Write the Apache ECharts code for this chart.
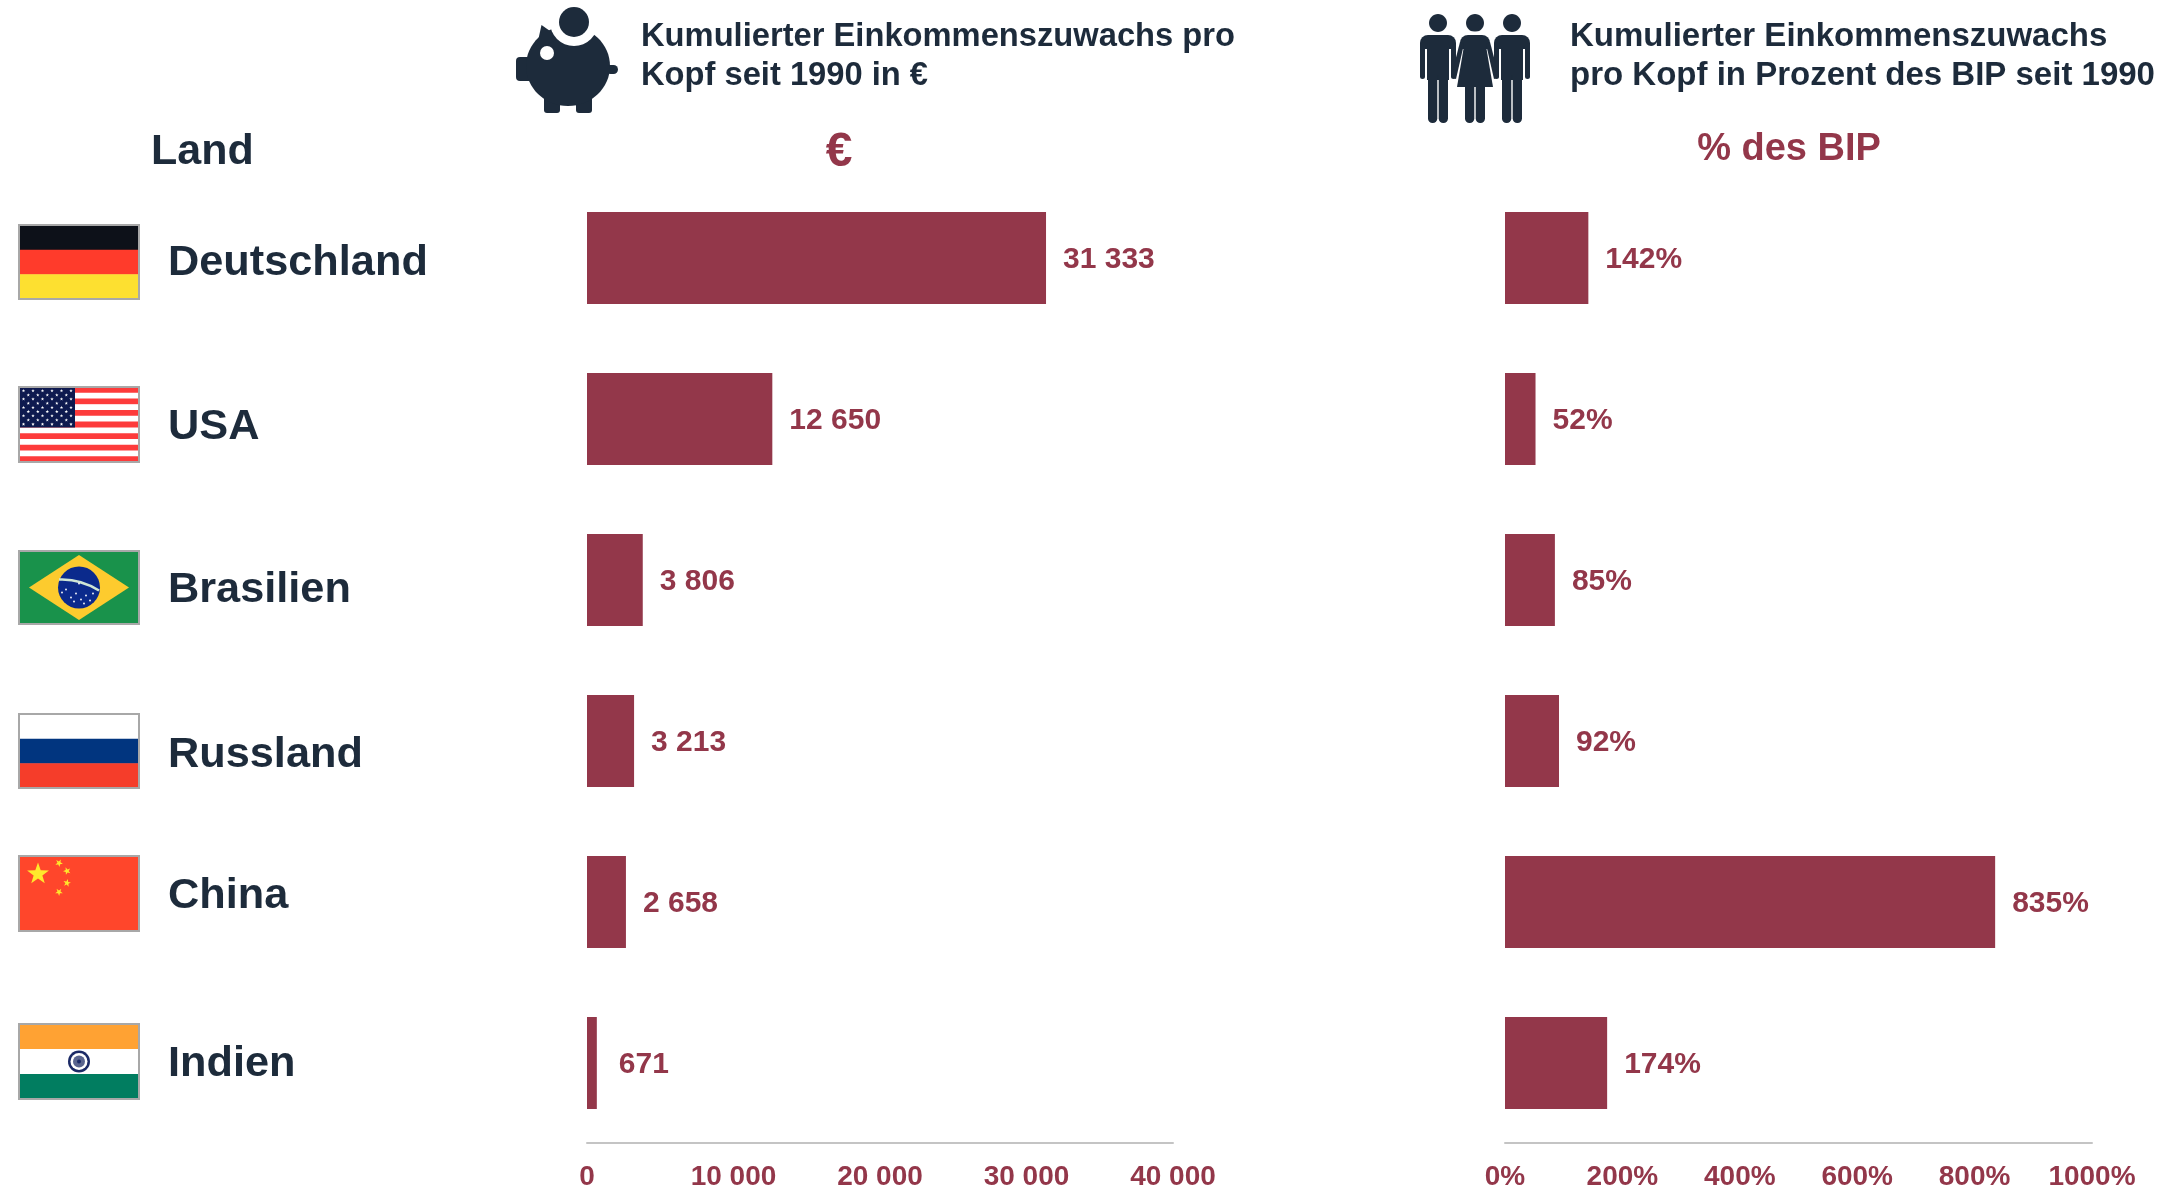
<!DOCTYPE html>
<html>
<head>
<meta charset="utf-8">
<title>Einkommenszuwachs</title>
<script src="https://cdn.jsdelivr.net/npm/echarts@6/dist/echarts.min.js"></script>
<style>
  html, body { margin: 0; padding: 0; background: #fff; }
  #chart { width: 2169px; height: 1191px; }
</style>
</head>
<body>
<div id="chart"></div>
<script>
const categories = ["Deutschland", "USA", "Brasilien", "Russland", "China", "Indien"]
const euroValues = [31333, 12650, 3806, 3213, 2658, 671]
const gdpValues = [142, 52, 85, 92, 835, 174]
const euroTicks = [0, 10000, 20000, 30000, 40000]
const gdpTicks = [0, 200, 400, 600, 800, 1000]

const DARK = "#1d2b3b"
const WINE = "#93374a"
const FONT = "'Liberation Sans', Arial, sans-serif"

// flags and names do not sit exactly on the bar rows in the original
const FLAG_W = 120
const flagTop = [225, 387, 551, 714, 856, 1024]
const flagHeight = [74, 75, 73, 74, 75, 75]
const nameShift = [5.5, 8, 10, 14, -5.5, 1.5]

function groupSpaces(n) {
  return String(n).replace(/\B(?=(\d{3})+$)/g, " ")
}

function rect(x, y, width, height, fill, r) {
  return { type: "rect", shape: { x, y, width, height, r: r || 0 }, style: { fill } }
}

function circle(cx, cy, r, fill) {
  return { type: "circle", shape: { cx, cy, r }, style: { fill } }
}

function poly(points, fill) {
  return { type: "polygon", shape: { points }, style: { fill } }
}

function star(cx, cy, r, fill, turn) {
  const pts = []
  for (let i = 0; i < 10; i++) {
    const a = -Math.PI / 2 + (turn || 0) + i * Math.PI / 5
    const d = i % 2 ? r * 0.4 : r
    pts.push([cx + d * Math.cos(a), cy + d * Math.sin(a)])
  }
  return poly(pts, fill)
}

function stripes(h, colors) {
  return colors.map((c, i) => rect(0, h * i / colors.length, FLAG_W, h / colors.length + 0.5, c))
}

const flagDrawers = {
  Deutschland: h => stripes(h, ["#0d1119", "#ff3b2b", "#fde030"]),
  USA: h => {
    const out = []
    const colors = []
    for (let i = 0; i < 13; i++) colors.push(i % 2 ? "#ffffff" : "#fd3b3b")
    out.push(...stripes(h, colors))
    const cw = 56
    const ch = h * 7 / 13
    out.push(rect(0, 0, cw, ch, "#0e1a4f"))
    for (let row = 0; row < 9; row++) {
      const count = row % 2 ? 5 : 6
      for (let k = 0; k < count; k++) {
        const x = (row % 2 ? 9.3 : 4.5) + k * 9.5
        out.push(star(x, 3.8 + row * (ch - 7) / 8, 1.8, "#ffffff"))
      }
    }
    return out
  },
  Brasilien: h => {
    const cy = h / 2
    const out = [
      rect(0, 0, FLAG_W, h, "#19924b"),
      poly([[10, cy], [60, 4], [110, cy], [60, h - 4]], "#fdcb2e"),
      circle(60, cy, 21, "#0b2a8c"),
      {
        type: "bezierCurve",
        shape: { x1: 40, y1: cy - 8, cpx1: 61, cpy1: cy - 9, x2: 80, y2: cy + 3 },
        style: { fill: "none", stroke: "#cfe6d5", lineWidth: 2.5 }
      }
    ]
    const dots = [[47, 2], [52, 10], [57, 6], [62, 12], [67, 8], [71, 13], [55, 14], [65, 16], [74, 6], [43, 5], [60, -4]]
    dots.forEach(d => out.push(circle(d[0], cy + d[1], 0.9, "#ffffff")))
    return out
  },
  Russland: h => stripes(h, ["#ffffff", "#01357f", "#f53d2a"]),
  China: h => [
    rect(0, 0, FLAG_W, h, "#ff462b"),
    star(19, 18, 11.5, "#ffe82c"),
    star(40, 7, 4, "#ffe82c", 0.5),
    star(48, 15, 4, "#ffe82c", 0.9),
    star(48, 27, 4, "#ffe82c", 0.2),
    star(40, 36, 4, "#ffe82c", 0.6)
  ],
  Indien: h => {
    const out = stripes(h, ["#ffa233", "#ffffff", "#017d60"])
    out.push(circle(60, h / 2, 11, "#1b2a66"), circle(60, h / 2, 8.5, "#ffffff"))
    out.push(circle(60, h / 2, 6, "#5a658f"), circle(60, h / 2, 2, "#1b2a66"))
    return out
  }
}

function flagGraphic(name, i) {
  const h = flagHeight[i]
  return {
    type: "group",
    x: 19,
    y: flagTop[i],
    children: [
      ...flagDrawers[name](h),
      { type: "rect", shape: { x: 0, y: 0, width: FLAG_W, height: h }, style: { fill: "none", stroke: "#a8a8a8", lineWidth: 2 } }
    ]
  }
}

function pigGraphic() {
  return {
    type: "group",
    x: 500,
    y: 0,
    children: [
      rect(16, 57, 20, 24, DARK, 4),
      rect(44, 92, 16, 21, DARK, 3),
      rect(76, 92, 16, 21, DARK, 3),
      rect(106, 65, 12, 9, DARK, 4.5),
      { type: "ellipse", shape: { cx: 68, cy: 66, rx: 42, ry: 40 }, style: { fill: DARK } },
      poly([[41.5, 25], [60, 38], [36, 50]], DARK),
      circle(74, 22, 24, "#ffffff"),
      circle(74, 22, 15, DARK),
      circle(47, 53, 7, "#ffffff")
    ]
  }
}

function manParts(cx) {
  return [
    { type: "ellipse", shape: { cx, cy: 23, rx: 9, ry: 9 }, style: { fill: DARK } },
    rect(cx - 18, 35, 36, 14, DARK, [8, 8, 0, 0]),
    rect(cx - 18, 45, 5, 34, DARK, [0, 0, 2.5, 2.5]),
    rect(cx + 13, 45, 5, 34, DARK, [0, 0, 2.5, 2.5]),
    rect(cx - 11, 45, 22, 35, DARK),
    rect(cx - 10, 75, 9.3, 48, DARK, [0, 0, 4.5, 4.5]),
    rect(cx + 0.7, 75, 9.3, 48, DARK, [0, 0, 4.5, 4.5])
  ]
}

function womanParts(cx) {
  return [
    { type: "ellipse", shape: { cx, cy: 23, rx: 9, ry: 9 }, style: { fill: DARK } },
    { type: "rect", shape: { x: cx - 16, y: 33, width: 32, height: 14, r: [8, 8, 0, 0] }, style: { fill: "#ffffff", stroke: "#ffffff", lineWidth: 3 } },
    rect(cx - 15, 35, 30, 14, DARK, [8, 8, 0, 0]),
    poly([[cx - 11, 46], [cx + 11, 46], [cx + 18, 87], [cx - 18, 87]], DARK),
    poly([[cx - 15, 42], [cx - 11, 44], [cx - 19, 79], [cx - 24, 77]], DARK),
    poly([[cx + 15, 42], [cx + 11, 44], [cx + 19, 79], [cx + 24, 77]], DARK),
    rect(cx - 10, 85, 9.3, 38, DARK, [0, 0, 4.5, 4.5]),
    rect(cx + 0.7, 85, 9.3, 38, DARK, [0, 0, 4.5, 4.5])
  ]
}

const headText = {
  color: DARK,
  fontFamily: FONT,
  fontWeight: "bold",
  fontSize: 32.7,
  lineHeight: 38.5
}

function barSeries(name, values, axisIndex, labelFormat) {
  return {
    name,
    type: "bar",
    xAxisIndex: axisIndex,
    yAxisIndex: axisIndex,
    // the 671 label stands a bit further off its thin bar in the original
    data: values.map(v => (v === 671 ? { value: v, label: { offset: [5, 1.5] } } : v)),
    barWidth: 92,
    itemStyle: { color: WINE },
    label: {
      show: true,
      position: "right",
      distance: 17,
      offset: [0, 1.5],
      color: WINE,
      fontFamily: FONT,
      fontWeight: "bold",
      fontSize: 30,
      formatter: p => labelFormat(p.value)
    }
  }
}

function valueAxis(gridIndex, ticks, labelFormat) {
  return {
    type: "value",
    gridIndex,
    offset: -1,
    min: ticks[0],
    max: ticks[ticks.length - 1],
    interval: ticks[1] - ticks[0],
    splitLine: { show: false },
    axisTick: { show: false },
    axisLine: { show: true, lineStyle: { color: "#c4c4c4", width: 2 } },
    axisLabel: {
      color: WINE,
      fontFamily: FONT,
      fontWeight: "bold",
      fontSize: 28,
      margin: 21,
      hideOverlap: false,
      showMinLabel: true,
      showMaxLabel: true,
      formatter: v => labelFormat(v)
    }
  }
}

// rich styles are the only way to nudge a single category label up or down
const nameRich = {}
categories.forEach((c, i) => {
  const s = nameShift[i]
  nameRich["n" + i] = {
    color: DARK,
    fontFamily: FONT,
    fontWeight: "bold",
    fontSize: 43.3,
    padding: s > 0 ? [2 * s, 0, 0, 0] : [0, 0, -2 * s, 0]
  }
})

const chart = echarts.init(document.getElementById("chart"))

chart.setOption({
  animation: false,
  backgroundColor: "#fff",
  title: [
    { text: "Kumulierter Einkommenszuwachs pro\nKopf seit 1990 in €", left: 641, top: 18, padding: 0, textStyle: headText },
    { text: "Kumulierter Einkommenszuwachs\npro Kopf in Prozent des BIP seit 1990", left: 1570, top: 18, padding: 0, textStyle: { ...headText, fontSize: 33 } },
    { text: "Land", left: 151, top: 131, padding: 0, textStyle: { color: DARK, fontFamily: FONT, fontWeight: "bold", fontSize: 43 } },
    { text: "€", left: 839, textAlign: "center", top: 129, padding: 0, textStyle: { color: WINE, fontFamily: FONT, fontWeight: "bold", fontSize: 48 } },
    { text: "% des BIP", left: 1789, textAlign: "center", top: 131, padding: 0, textStyle: { color: WINE, fontFamily: FONT, fontWeight: "bold", fontSize: 38 } }
  ],
  grid: [
    { left: 587, width: 586, top: 177.5, height: 966, outerBoundsMode: "none" },
    { left: 1505, width: 587, top: 177.5, height: 966, outerBoundsMode: "none" }
  ],
  xAxis: [
    valueAxis(0, euroTicks, groupSpaces),
    valueAxis(1, gdpTicks, v => v + "%")
  ],
  yAxis: [
    {
      type: "category",
      gridIndex: 0,
      inverse: true,
      data: categories,
      axisLine: { show: false },
      axisTick: { show: false },
      axisLabel: {
        align: "left",
        margin: 419,
        formatter: (value, i) => "{n" + i + "|" + value + "}",
        rich: nameRich
      }
    },
    {
      type: "category",
      gridIndex: 1,
      inverse: true,
      data: categories,
      axisLine: { show: false },
      axisTick: { show: false },
      axisLabel: { show: false }
    }
  ],
  series: [
    barSeries("€", euroValues, 0, groupSpaces),
    barSeries("% des BIP", gdpValues, 1, v => v + "%")
  ],
  graphic: [
    ...categories.map(flagGraphic),
    pigGraphic(),
    { type: "group", x: 0, y: 0, children: [...manParts(1438), ...manParts(1512), ...womanParts(1475)] }
  ]
})
</script>
</body>
</html>
